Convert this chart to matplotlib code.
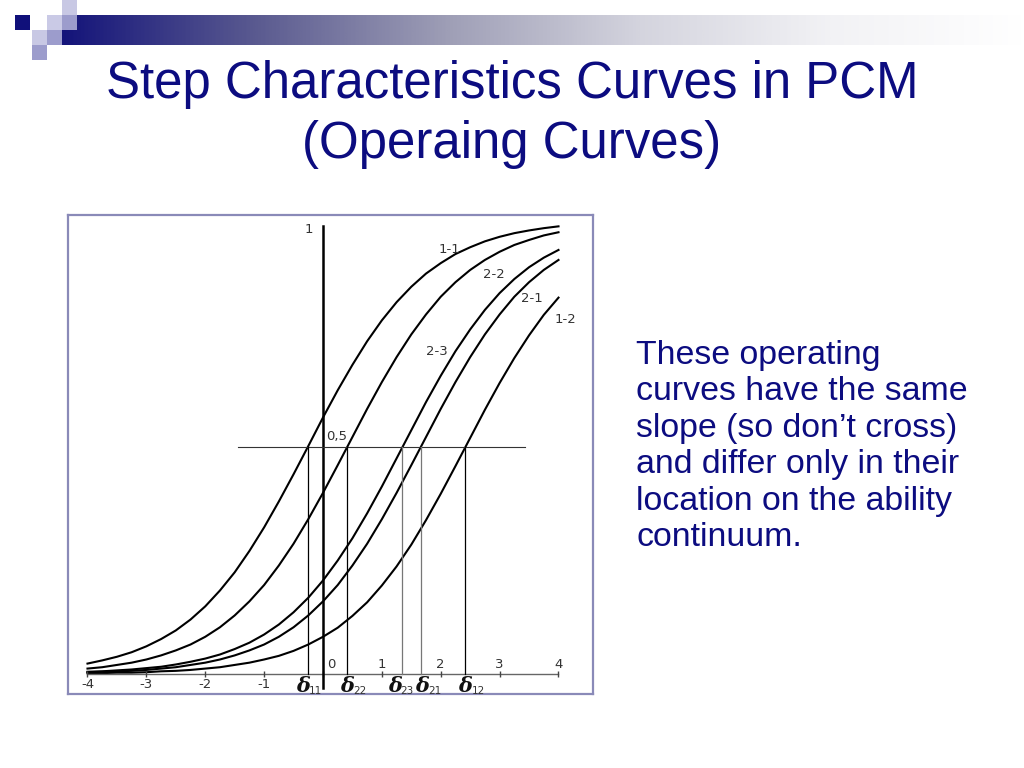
import matplotlib
matplotlib.use('Agg')  # Non-interactive backend

import matplotlib.pyplot as plt
import numpy as np
from matplotlib.colors import LinearSegmentedColormap
from matplotlib.patches import Rectangle

# Ability scale (theta) and category probabilities
theta = np.arange(-4.0, 4.01, 0.25)
p_11 = [0.023, 0.030, 0.038, 0.048, 0.061, 0.077, 0.096, 0.120, 0.149, 0.184,
        0.224, 0.271, 0.323, 0.380, 0.440, 0.502, 0.565, 0.625, 0.681, 0.733,
        0.779, 0.819, 0.853, 0.882, 0.905, 0.925, 0.940, 0.953, 0.963, 0.971,
        0.977, 0.982, 0.986]
p_22 = [0.012, 0.015, 0.020, 0.025, 0.032, 0.041, 0.052, 0.065, 0.082, 0.103,
        0.129, 0.160, 0.196, 0.239, 0.287, 0.341, 0.399, 0.460, 0.522, 0.584,
        0.643, 0.698, 0.748, 0.792, 0.831, 0.863, 0.890, 0.912, 0.930, 0.945,
        0.956, 0.966, 0.973]
p_23 = [0.005, 0.006, 0.008, 0.010, 0.013, 0.016, 0.021, 0.027, 0.034, 0.043,
        0.055, 0.069, 0.087, 0.109, 0.136, 0.168, 0.206, 0.250, 0.299, 0.354,
        0.413, 0.475, 0.537, 0.599, 0.657, 0.711, 0.759, 0.802, 0.839, 0.870,
        0.896, 0.917, 0.934]
p_21 = [0.004, 0.005, 0.006, 0.007, 0.009, 0.012, 0.015, 0.020, 0.025, 0.032,
        0.041, 0.052, 0.065, 0.082, 0.103, 0.129, 0.160, 0.196, 0.239, 0.287,
        0.341, 0.399, 0.460, 0.522, 0.584, 0.643, 0.698, 0.748, 0.792, 0.831,
        0.863, 0.890, 0.912]
p_12 = [0.002, 0.002, 0.003, 0.003, 0.004, 0.006, 0.007, 0.009, 0.012, 0.015,
        0.020, 0.025, 0.032, 0.040, 0.051, 0.065, 0.082, 0.102, 0.128, 0.158,
        0.195, 0.237, 0.285, 0.339, 0.397, 0.458, 0.520, 0.582, 0.641, 0.696,
        0.746, 0.791, 0.829]

# step difficulties (where each curve crosses 0.5)
delta_names = ['11', '22', '23', '21', '12']
delta_vals = [-0.26, 0.41, 1.35, 1.66, 2.42]
delta_colors = ['black', 'black', '#777777', '#777777', 'black']
delta_shift = [-0.08, 0.0, -0.13, 0.03, 0.0]  # label nudges so they don't collide

curve_names = ['1-1', '2-2', '2-3', '2-1', '1-2']
curve_label_pos = [(2.14, 0.934), (2.90, 0.881), (1.94, 0.711),
                   (3.55, 0.826), (4.11, 0.780)]

x_ticks = [-4, -3, -2, -1, 0, 1, 2, 3, 4]

title_lines = ['Step Characteristics Curves in PCM', '(Operaing Curves)']
body_lines = ['These operating', 'curves have the same',
              'slope (so don\u2019t cross)', 'and differ only in their',
              'location on the ability', 'continuum.']

NAVY = '#0c0c80'
LABEL = '#333333'

fig = plt.figure(figsize=(10.24, 7.68), dpi=100)

# slide decoration (pixel coords)
bg = fig.add_axes([0, 0, 1, 1], zorder=0)
bg.set_xlim(0, 1024)
bg.set_ylim(768, 0)
bg.axis('off')
cmap = LinearSegmentedColormap.from_list(
    'bar', ['#14147a', '#5a5a90', '#9e9eb6', '#d4d4de', '#f2f2f5', '#ffffff'])
grad = np.linspace(0, 1, 512).reshape(1, -1)
bg.imshow(grad, cmap=cmap, aspect='auto', extent=[62, 1024, 45, 15])
squares = [((15, 15), '#10107a'), ((62, 0), '#c8c8e4'), ((47, 15), '#cacae6'),
           ((62, 15), '#9c9ccc'), ((32, 30), '#c8c8e4'), ((47, 30), '#9c9ccc'),
           ((32, 45), '#9c9ccc')]
for (sx, sy), col in squares:
    bg.add_patch(Rectangle((sx, sy), 15, 15, color=col, lw=0))

for i, line in enumerate(title_lines):
    fig.text(512 / 1024, 1 - (98 + 60 * i) / 768, line, ha='center',
             va='baseline', fontsize=36.7, color=NAVY, family='Liberation Sans')

for i, line in enumerate(body_lines):
    fig.text(636 / 1024, 1 - (364 + 36.4 * i) / 768, line, ha='left',
             va='baseline', fontsize=24.4, color=NAVY, family='Liberation Sans')

# chart box
ax = fig.add_axes([68 / 1024, 1 - 694 / 768, 525 / 1024, 479 / 768], zorder=1)
ax.set_xlim(-4.331, 4.586)
ax.set_ylim(-0.044, 1.011)
ax.set_xticks([])
ax.set_yticks([])
for s in ax.spines.values():
    s.set_color('#8a8ab8')
    s.set_linewidth(1.6)

for p in [p_11, p_22, p_23, p_21, p_12]:
    ax.plot(theta, p, color='black', lw=1.5, solid_joinstyle='round')

for name, (lx, ly) in zip(curve_names, curve_label_pos):
    ax.text(lx, ly, name, ha='center', va='center', fontsize=9.5, color=LABEL)

# axes drawn inside the picture
ax.plot([-4, 4], [0, 0], color='#666666', lw=1.0)
ax.plot(x_ticks, [0] * len(x_ticks), '|', color='#444444', ms=5, mew=1.0)
ax.plot([0, 0], [-0.03, 0.987], color='black', lw=1.8)
ax.plot([-1.44, 3.43], [0.5, 0.5], color='#333333', lw=0.8)
ax.text(-0.24, 0.98, '1', ha='center', va='center', fontsize=9.5, color=LABEL)
ax.text(0.24, 0.524, '0,5', ha='center', va='center', fontsize=9.5, color=LABEL)

for t in x_ticks:
    if t < 0:
        ax.text(t, -0.008, str(t), ha='center', va='top', fontsize=9.5, color=LABEL)
    else:
        ax.text(t + (0.14 if t == 0 else 0), 0.006, str(t), ha='center',
                va='bottom', fontsize=9.5, color=LABEL)

for name, d, col, sh in zip(delta_names, delta_vals, delta_colors, delta_shift):
    ax.plot([d, d], [0, 0.5], color=col, lw=0.9)
    ax.text(d + sh, -0.004, '\u03b4', ha='center', va='top', fontsize=15,
            family='DejaVu Serif', weight='bold', style='italic', color='#111111')
    ax.text(d + sh + 0.1, -0.026, name, ha='left', va='top', fontsize=7.5,
            color=LABEL)

plt.savefig('out.png', dpi=100)
